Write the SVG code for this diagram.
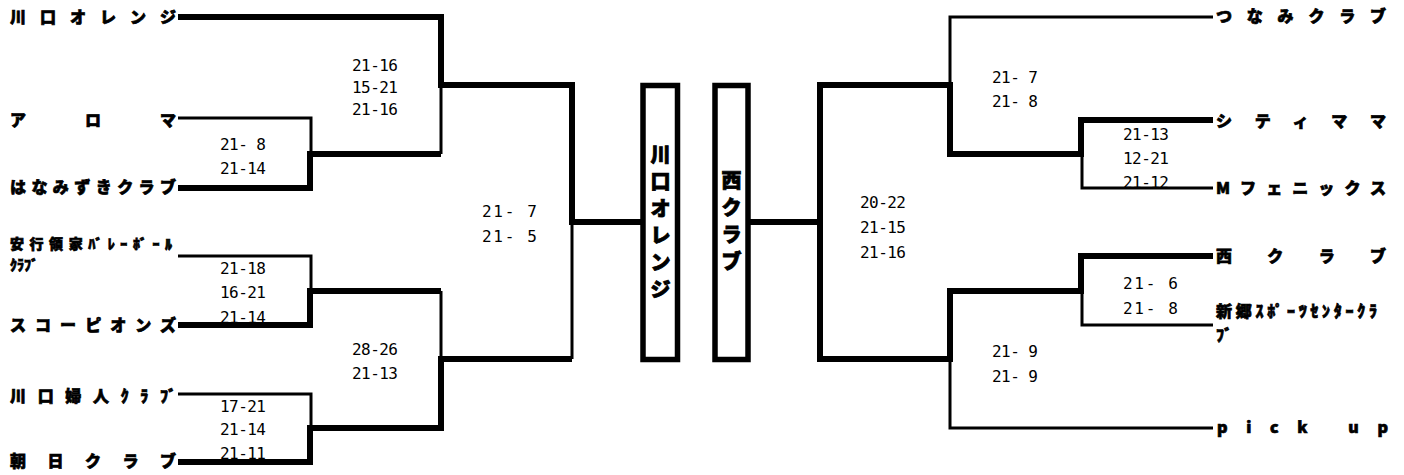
<svg xmlns="http://www.w3.org/2000/svg" width="1404" height="475" viewBox="0 0 1404 475">
<style>
.name{font-family:"Noto Sans CJK JP","Noto Sans",sans-serif;font-weight:900;font-size:16px;fill:#000;stroke:#000;stroke-width:0.7}
.small{font-size:14px}
.sc{font-family:"DejaVu Sans Mono","Liberation Mono",monospace;font-size:16px;fill:#000}
.thin{fill:none;stroke:#000;stroke-width:3}
.thick{fill:none;stroke:#000;stroke-width:6}
.box{fill:#fff;stroke:#000;stroke-width:5.5}
.champ{font-family:"Noto Sans CJK JP",sans-serif;font-weight:900;font-size:20px;text-anchor:middle;fill:#000;stroke:#000;stroke-width:0.8}
</style>
<rect width="1404" height="475" fill="#fff"/>
<g id="scores" class="sc">
<text x="352" y="70.5" textLength="46" lengthAdjust="spacing">21-16</text>
<text x="352" y="92.5" textLength="46" lengthAdjust="spacing">15-21</text>
<text x="352" y="114.5" textLength="46" lengthAdjust="spacing">21-16</text>
<text x="220" y="150" textLength="46" lengthAdjust="spacing">21- 8</text>
<text x="220" y="174" textLength="46" lengthAdjust="spacing">21-14</text>
<text x="482" y="217" textLength="55" lengthAdjust="spacing">21-  7</text>
<text x="482" y="242" textLength="55" lengthAdjust="spacing">21-  5</text>
<text x="220" y="274" textLength="46" lengthAdjust="spacing">21-18</text>
<text x="220" y="298" textLength="46" lengthAdjust="spacing">16-21</text>
<text x="220" y="323" textLength="46" lengthAdjust="spacing">21-14</text>
<text x="352" y="355" textLength="46" lengthAdjust="spacing">28-26</text>
<text x="352" y="379" textLength="46" lengthAdjust="spacing">21-13</text>
<text x="220" y="412" textLength="46" lengthAdjust="spacing">17-21</text>
<text x="220" y="435" textLength="46" lengthAdjust="spacing">21-14</text>
<text x="220" y="459" textLength="46" lengthAdjust="spacing">21-11</text>
<text x="992" y="83" textLength="46" lengthAdjust="spacing">21- 7</text>
<text x="992" y="107" textLength="46" lengthAdjust="spacing">21- 8</text>
<text x="1123" y="140" textLength="46" lengthAdjust="spacing">21-13</text>
<text x="1123" y="164" textLength="46" lengthAdjust="spacing">12-21</text>
<text x="1123" y="188" textLength="46" lengthAdjust="spacing">21-12</text>
<text x="860" y="208" textLength="46" lengthAdjust="spacing">20-22</text>
<text x="860" y="233" textLength="46" lengthAdjust="spacing">21-15</text>
<text x="860" y="258" textLength="46" lengthAdjust="spacing">21-16</text>
<text x="1123" y="289" textLength="55" lengthAdjust="spacing">21-  6</text>
<text x="1123" y="314" textLength="55" lengthAdjust="spacing">21-  8</text>
<text x="992" y="357" textLength="46" lengthAdjust="spacing">21- 9</text>
<text x="992" y="382" textLength="46" lengthAdjust="spacing">21- 9</text>
</g>
<g id="connectors">
<path class="thick" d="M178,17 H441 V85 H572 V222 H643"/>
<path class="thin" d="M441,85 V154"/>
<path class="thin" d="M178,118 H311 V154"/>
<path class="thick" d="M178,188 H310 V154 H441"/>
<path class="thin" d="M178,256 H311 V291"/>
<path class="thick" d="M178,325 H310 V291 H441"/>
<path class="thin" d="M441,291 V359"/>
<path class="thin" d="M178,394 H311 V428"/>
<path class="thick" d="M178,462 H310 V428 H441 V359 H572"/>
<path class="thin" d="M572,222 V359"/>
<path class="thin" d="M1213,17 H950 V85"/>
<path class="thick" d="M1213,120 H1081 V154 H950 V85 H820 V359 H950 V291 H1081 V256 H1213"/>
<path class="thin" d="M1213,188 H1082 V154"/>
<path class="thin" d="M1213,325 H1082 V291"/>
<path class="thin" d="M1213,428 H950 V359"/>
<path class="thick" d="M748,222 H820"/>
</g>
<g id="team-kawaguchi-orange"><text class="name" x="10" y="22.5" textLength="166" lengthAdjust="spacing">川口オレンジ</text></g>
<g id="team-aroma"><text class="name" x="10" y="126" textLength="166" lengthAdjust="spacing">アロマ</text></g>
<g id="team-hanamizuki"><text class="name" x="10" y="193" textLength="166" lengthAdjust="spacing">はなみずきクラブ</text></g>
<g id="team-angyo"><text class="name small" x="10" y="249" textLength="162" lengthAdjust="spacing">安行領家ﾊﾞﾚｰﾎﾞｰﾙ</text><text class="name small" x="10" y="270">ｸﾗﾌﾞ</text></g>
<g id="team-scorpions"><text class="name" x="10" y="331" textLength="166" lengthAdjust="spacing">スコーピオンズ</text></g>
<g id="team-kawaguchi-fujin"><text class="name" x="10" y="402" textLength="166" lengthAdjust="spacing">川口婦人ｸﾗﾌﾞ</text></g>
<g id="team-asahi"><text class="name" x="10" y="467" textLength="166" lengthAdjust="spacing">朝日クラブ</text></g>
<g id="team-tsunami"><text class="name" x="1216" y="22" textLength="170" lengthAdjust="spacing">つなみクラブ</text></g>
<g id="team-citymama"><text class="name" x="1216" y="127" textLength="170" lengthAdjust="spacing">シティママ</text></g>
<g id="team-m-phoenix"><text class="name" x="1216" y="194" textLength="170" lengthAdjust="spacing">Mフェニックス</text></g>
<g id="team-nishi"><text class="name" x="1216" y="262" textLength="170" lengthAdjust="spacing">西クラブ</text></g>
<g id="team-shingo"><text class="name" x="1216" y="317" textLength="161" lengthAdjust="spacing">新郷ｽﾎﾟｰﾂｾﾝﾀｰｸﾗ</text><text class="name" x="1216" y="341">ﾌﾞ</text></g>
<g id="team-pickup"><text class="name" x="1217" y="433" textLength="171" lengthAdjust="spacing">pick up</text></g>
<g id="champion-left"><rect class="box" x="643" y="85.5" width="34.5" height="274"/>
<text class="champ" x="660.5"><tspan x="660.5" y="162">川</tspan><tspan x="660.5" y="189">口</tspan><tspan x="660.5" y="216">オ</tspan><tspan x="660.5" y="243">レ</tspan><tspan x="660.5" y="270">ン</tspan><tspan x="660.5" y="297">ジ</tspan></text></g>
<g id="champion-right"><rect class="box" x="715" y="85.5" width="33" height="274"/>
<text class="champ" x="731.5"><tspan x="731.5" y="188">西</tspan><tspan x="731.5" y="215">ク</tspan><tspan x="731.5" y="242">ラ</tspan><tspan x="731.5" y="269">ブ</tspan></text></g>
</svg>
